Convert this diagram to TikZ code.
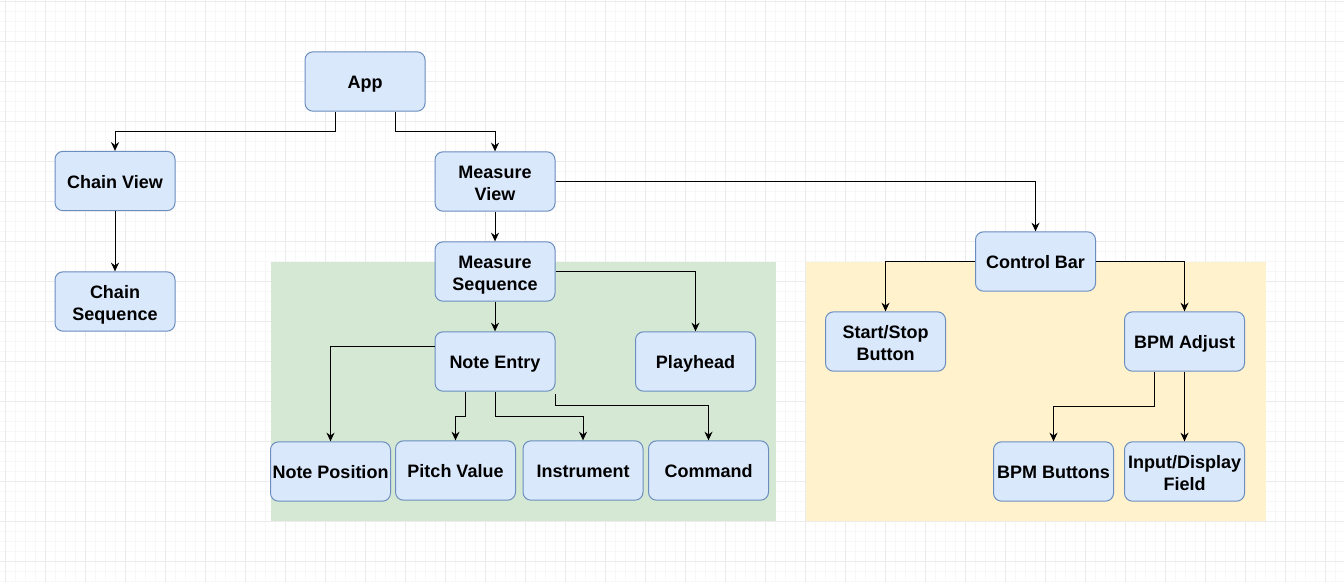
\documentclass[tikz,border=0pt]{standalone}
\usepackage{fontspec}
\setmainfont{Liberation Sans}
\usetikzlibrary{arrows.meta}

\definecolor{boxfill}{HTML}{DAE8FC}
\definecolor{boxline}{HTML}{6C8EBF}
\definecolor{greenfill}{HTML}{D5E8D4}
\definecolor{yellowfill}{HTML}{FFF2CC}
\definecolor{gridmajor}{HTML}{EBEBEB}
\definecolor{gridminor}{HTML}{F7F7F7}

\begin{document}
\begin{tikzpicture}[y=0.75pt, x=0.75pt, yscale=-1.000000, xscale=1.000000,
  minorgrid/.style={draw=gridminor, line width=0.75pt},
  majorgrid/.style={draw=gridmajor, line width=0.75pt},
  box/.style={draw=boxline, fill=boxfill, line width=0.75pt, rounded corners=6pt,
    minimum width=90pt, minimum height=44.5pt, inner sep=1pt, align=center,
    font=\fontsize{13.5}{16.5}\selectfont\bfseries,
    execute at begin node={\rule{0pt}{14pt}},
    execute at end node={\rule[-2.9pt]{0pt}{2.9pt}}},
  twoline/.style={execute at begin node={\rule{0pt}{31pt}}},
  link/.style={draw=black, line width=0.75pt, -{Stealth[length=6.5pt,width=6pt]}}]

  % background grid
  \path[fill=white] (0,0) rectangle (1344,582);
  \useasboundingbox (0,0) rectangle (1344,582);
  \foreach \gx in {15,25,...,1335} \path[minorgrid] (\gx,0) -- (\gx,582);
  \foreach \gy in {11,21,...,581} \path[minorgrid] (0,\gy) -- (1344,\gy);
  \foreach \gx in {5,45,...,1325} \path[majorgrid] (\gx,0) -- (\gx,582);
  \foreach \gy in {1,41,...,561} \path[majorgrid] (0,\gy) -- (1344,\gy);

  % groups
  \path[fill=greenfill] (270.5,262) rectangle (775.5,521);
  \path[fill=yellowfill] (805.5,262) rectangle (1265.5,521);

  % level one
  \node[box] (app) at (365,81.5) {App};

  % level two
  \node[box] (chainview) at (115,181) {Chain View};
  \node[box,twoline] (measureview) at (495,181.5) {Measure\\View};
  \node[box,twoline] (chainsequence) at (115,301.5) {Chain\\Sequence};

  % measure sequence group
  \node[box,twoline] (measuresequence) at (495,271.5) {Measure\\Sequence};
  \node[box] (noteentry) at (495,361.5) {Note Entry};
  \node[box] (playhead) at (695.5,361.5) {Playhead};
  \node[box] (noteposition) at (330.5,471.5) {Note Position};
  \node[box] (pitchvalue) at (455.5,470.5) {Pitch Value};
  \node[box] (instrument) at (583,470.5) {Instrument};
  \node[box] (command) at (708.5,470.5) {Command};

  % control bar group
  \node[box] (controlbar) at (1035.5,261.5) {Control Bar};
  \node[box,twoline] (startstop) at (885.5,341.5) {Start/Stop\\Button};
  \node[box] (bpmadjust) at (1184.5,341.5) {BPM Adjust};
  \node[box] (bpmbuttons) at (1053.5,471.5) {BPM Buttons};
  \node[box,twoline] (inputfield) at (1184.5,471.5) {Input/Display\\Field};

  % connectors
  \path[link] ([xshift=-22.5pt]app.south) -- ++(0,20) -| (chainview.north);
  \path[link] ([xshift=22.5pt]app.south) -- ++(0,20) -| (measureview.north);
  \path[link] (chainview.south) -- (chainsequence.north);
  \path[link] (measureview.east) -| (controlbar.north);
  \path[link] (measureview.south) -- (measuresequence.north);
  \path[link] (measuresequence.south) -- (noteentry.north);
  \path[link] (measuresequence.east) -| (playhead.north);

  \path[link] ([yshift=-11.25pt]noteentry.west) -| (noteposition.north);
  \path[link] ([xshift=-22.5pt]noteentry.south) -- ++(0,25) -| (pitchvalue.north);
  \path[link] (noteentry.south) -- ++(0,25) -| (instrument.north);
  \path[link] ([yshift=1.5pt]noteentry.south east) -- ++(0,12) -| (command.north);

  \path[link] (controlbar.west) -| (startstop.north);
  \path[link] (controlbar.east) -| (bpmadjust.north);
  \path[link] ([xshift=-22.5pt]bpmadjust.south) -- ++(0,35) -| (bpmbuttons.north);
  \path[link] (bpmadjust.south) -- (inputfield.north);

\end{tikzpicture}
\end{document}
